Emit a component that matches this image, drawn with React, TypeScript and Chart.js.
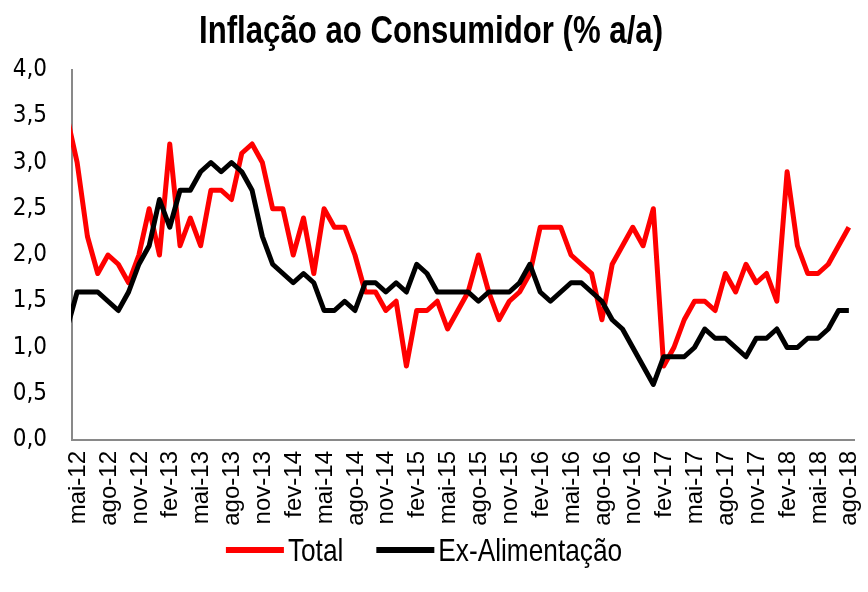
import React, { useEffect, useRef } from 'react';
import { Chart, registerables } from 'chart.js';

Chart.register(...registerables);

// Monthly categories (abr-12 lies just outside the left edge of the axis and is clipped)
const categories: string[] = [
  'abr-12', 'mai-12', 'jun-12', 'jul-12', 'ago-12', 'set-12', 'out-12', 'nov-12', 'dez-12',
  'jan-13', 'fev-13', 'mar-13', 'abr-13', 'mai-13', 'jun-13', 'jul-13', 'ago-13', 'set-13', 'out-13', 'nov-13', 'dez-13',
  'jan-14', 'fev-14', 'mar-14', 'abr-14', 'mai-14', 'jun-14', 'jul-14', 'ago-14', 'set-14', 'out-14', 'nov-14', 'dez-14',
  'jan-15', 'fev-15', 'mar-15', 'abr-15', 'mai-15', 'jun-15', 'jul-15', 'ago-15', 'set-15', 'out-15', 'nov-15', 'dez-15',
  'jan-16', 'fev-16', 'mar-16', 'abr-16', 'mai-16', 'jun-16', 'jul-16', 'ago-16', 'set-16', 'out-16', 'nov-16', 'dez-16',
  'jan-17', 'fev-17', 'mar-17', 'abr-17', 'mai-17', 'jun-17', 'jul-17', 'ago-17', 'set-17', 'out-17', 'nov-17', 'dez-17',
  'jan-18', 'fev-18', 'mar-18', 'abr-18', 'mai-18', 'jun-18', 'jul-18', 'ago-18',
];

const totalValues: number[] = [
  3.5, 3.0, 2.2, 1.8, 2.0, 1.9, 1.7, 2.0, 2.5,
  2.0, 3.2, 2.1, 2.4, 2.1, 2.7, 2.7, 2.6, 3.1, 3.2, 3.0, 2.5,
  2.5, 2.0, 2.4, 1.8, 2.5, 2.3, 2.3, 2.0, 1.6, 1.6, 1.4, 1.5,
  0.8, 1.4, 1.4, 1.5, 1.2, 1.4, 1.6, 2.0, 1.6, 1.3, 1.5, 1.6,
  1.8, 2.3, 2.3, 2.3, 2.0, 1.9, 1.8, 1.3, 1.9, 2.1, 2.3, 2.1,
  2.5, 0.8, 1.0, 1.3, 1.5, 1.5, 1.4, 1.8, 1.6, 1.9, 1.7, 1.8,
  1.5, 2.9, 2.1, 1.8, 1.8, 1.9, 2.1, 2.3,
];

const exFoodValues: number[] = [
  1.2, 1.6, 1.6, 1.6, 1.5, 1.4, 1.6, 1.9, 2.1,
  2.6, 2.3, 2.7, 2.7, 2.9, 3.0, 2.9, 3.0, 2.9, 2.7, 2.2, 1.9,
  1.8, 1.7, 1.8, 1.7, 1.4, 1.4, 1.5, 1.4, 1.7, 1.7, 1.6, 1.7,
  1.6, 1.9, 1.8, 1.6, 1.6, 1.6, 1.6, 1.5, 1.6, 1.6, 1.6, 1.7,
  1.9, 1.6, 1.5, 1.6, 1.7, 1.7, 1.6, 1.5, 1.3, 1.2, 1.0, 0.8,
  0.6, 0.9, 0.9, 0.9, 1.0, 1.2, 1.1, 1.1, 1.0, 0.9, 1.1, 1.1,
  1.2, 1.0, 1.0, 1.1, 1.1, 1.2, 1.4, 1.4,
];

const titleText = 'Inflação ao Consumidor (% a/a)';
const firstShownCategory = 'mai-12';
const labelEvery = 3;
const yMin = 0;
const yMax = 4;
const yStep = 0.5;

const ARIAL = "'Liberation Sans', Arial, sans-serif";
const CONDENSED = "'DejaVu Sans Condensed', 'Liberation Sans', sans-serif";
const NARROW_SCALE = 0.82; // Arial Narrow is Arial compressed horizontally
const AXIS_GRAY = '#898989';

// Draws the title and the legend in an "Arial Narrow" look (real text, compressed).
const excelTextPlugin = {
  id: 'excelText',
  afterDraw(chart: any) {
    const ctx: CanvasRenderingContext2D = chart.ctx;

    // Title
    ctx.save();
    ctx.fillStyle = '#000';
    ctx.textAlign = 'center';
    ctx.textBaseline = 'alphabetic';
    ctx.font = `bold 38px ${ARIAL}`;
    ctx.translate(431, 43);
    ctx.scale(NARROW_SCALE, 1);
    ctx.fillText(titleText, 0, 0);
    ctx.restore();

    // Legend
    const sampleW = 58;
    const gapText = 4;
    const gapItems = 33;
    const centerX = 424;
    const lineY = 550;
    const baseline = 561;
    ctx.save();
    ctx.font = `32px ${ARIAL}`;
    const items = chart.data.datasets.map((ds: any) => ({
      label: ds.label as string,
      color: ds.borderColor as string,
      w: ctx.measureText(ds.label).width * NARROW_SCALE,
    }));
    const total = items.reduce((s: number, it: any) => s + sampleW + gapText + it.w, 0) + gapItems * (items.length - 1);
    let x = centerX - total / 2;
    items.forEach((it: any) => {
      ctx.strokeStyle = it.color;
      ctx.lineWidth = 6;
      ctx.lineCap = 'butt';
      ctx.beginPath();
      ctx.moveTo(x, lineY);
      ctx.lineTo(x + sampleW, lineY);
      ctx.stroke();
      x += sampleW + gapText;
      ctx.save();
      ctx.fillStyle = '#000';
      ctx.textAlign = 'left';
      ctx.textBaseline = 'alphabetic';
      ctx.translate(x, baseline);
      ctx.scale(NARROW_SCALE, 1);
      ctx.fillText(it.label, 0, 0);
      ctx.restore();
      x += it.w + gapItems;
    });
    ctx.restore();
  },
};

export default function App() {
  const canvasRef = useRef<HTMLCanvasElement | null>(null);

  useEffect(() => {
    const canvas = canvasRef.current;
    if (!canvas) return;
    const firstIdx = categories.indexOf(firstShownCategory);

    const chart = new Chart(canvas, {
      type: 'line',
      data: {
        labels: categories,
        datasets: [
          {
            label: 'Total',
            data: totalValues,
            borderColor: '#ff0000',
            backgroundColor: '#ff0000',
            borderWidth: 5,
            pointRadius: 0,
            pointHoverRadius: 0,
            tension: 0,
            borderJoinStyle: 'round',
            clip: 1,
            order: 1,
          } as any,
          {
            label: 'Ex-Alimentação',
            data: exFoodValues,
            borderColor: '#000000',
            backgroundColor: '#000000',
            borderWidth: 5,
            pointRadius: 0,
            pointHoverRadius: 0,
            tension: 0,
            borderJoinStyle: 'round',
            clip: 1,
            order: 0,
          } as any,
        ],
      },
      options: {
        animation: false,
        responsive: false,
        events: [],
        layout: { padding: { left: 0, right: 14, top: 70, bottom: 57 } },
        plugins: {
          tooltip: { enabled: false },
          title: { display: false },
          legend: { display: false },
        },
        scales: {
          x: {
            type: 'category',
            min: firstShownCategory,
            offset: true,
            grid: { display: false, drawTicks: false },
            border: { display: true, color: AXIS_GRAY, width: 2 },
            afterFit: (scale: any) => {
              scale.height = 95;
              scale.paddingLeft = 0;
              scale.paddingRight = 0;
            },
            ticks: {
              autoSkip: false,
              maxRotation: 90,
              minRotation: 90,
              padding: 11,
              labelOffset: 1,
              color: '#000',
              font: { family: ARIAL, size: 24 },
              callback: (value: any) => {
                const v = Number(value);
                return (v - firstIdx) % labelEvery === 0 ? categories[v] : '';
              },
            },
          },
          y: {
            min: yMin,
            max: yMax,
            grid: { display: false, drawTicks: false },
            border: { display: true, color: AXIS_GRAY, width: 2 },
            afterFit: (scale: any) => {
              scale.width = 72;
            },
            ticks: {
              stepSize: yStep,
              padding: 25,
              color: '#000',
              font: { family: CONDENSED, size: 24 },
              callback: (value: any) => Number(value).toFixed(1).replace('.', ','),
            },
          },
        },
      } as any,
      plugins: [excelTextPlugin],
    });

    return () => chart.destroy();
  }, []);

  return (
    <div style={{ position: 'absolute', left: 0, top: 0, width: 868, height: 592, background: '#fff' }}>
      <canvas ref={canvasRef} width={868} height={592} style={{ display: 'block', width: 868, height: 592 }} />
    </div>
  );
}
